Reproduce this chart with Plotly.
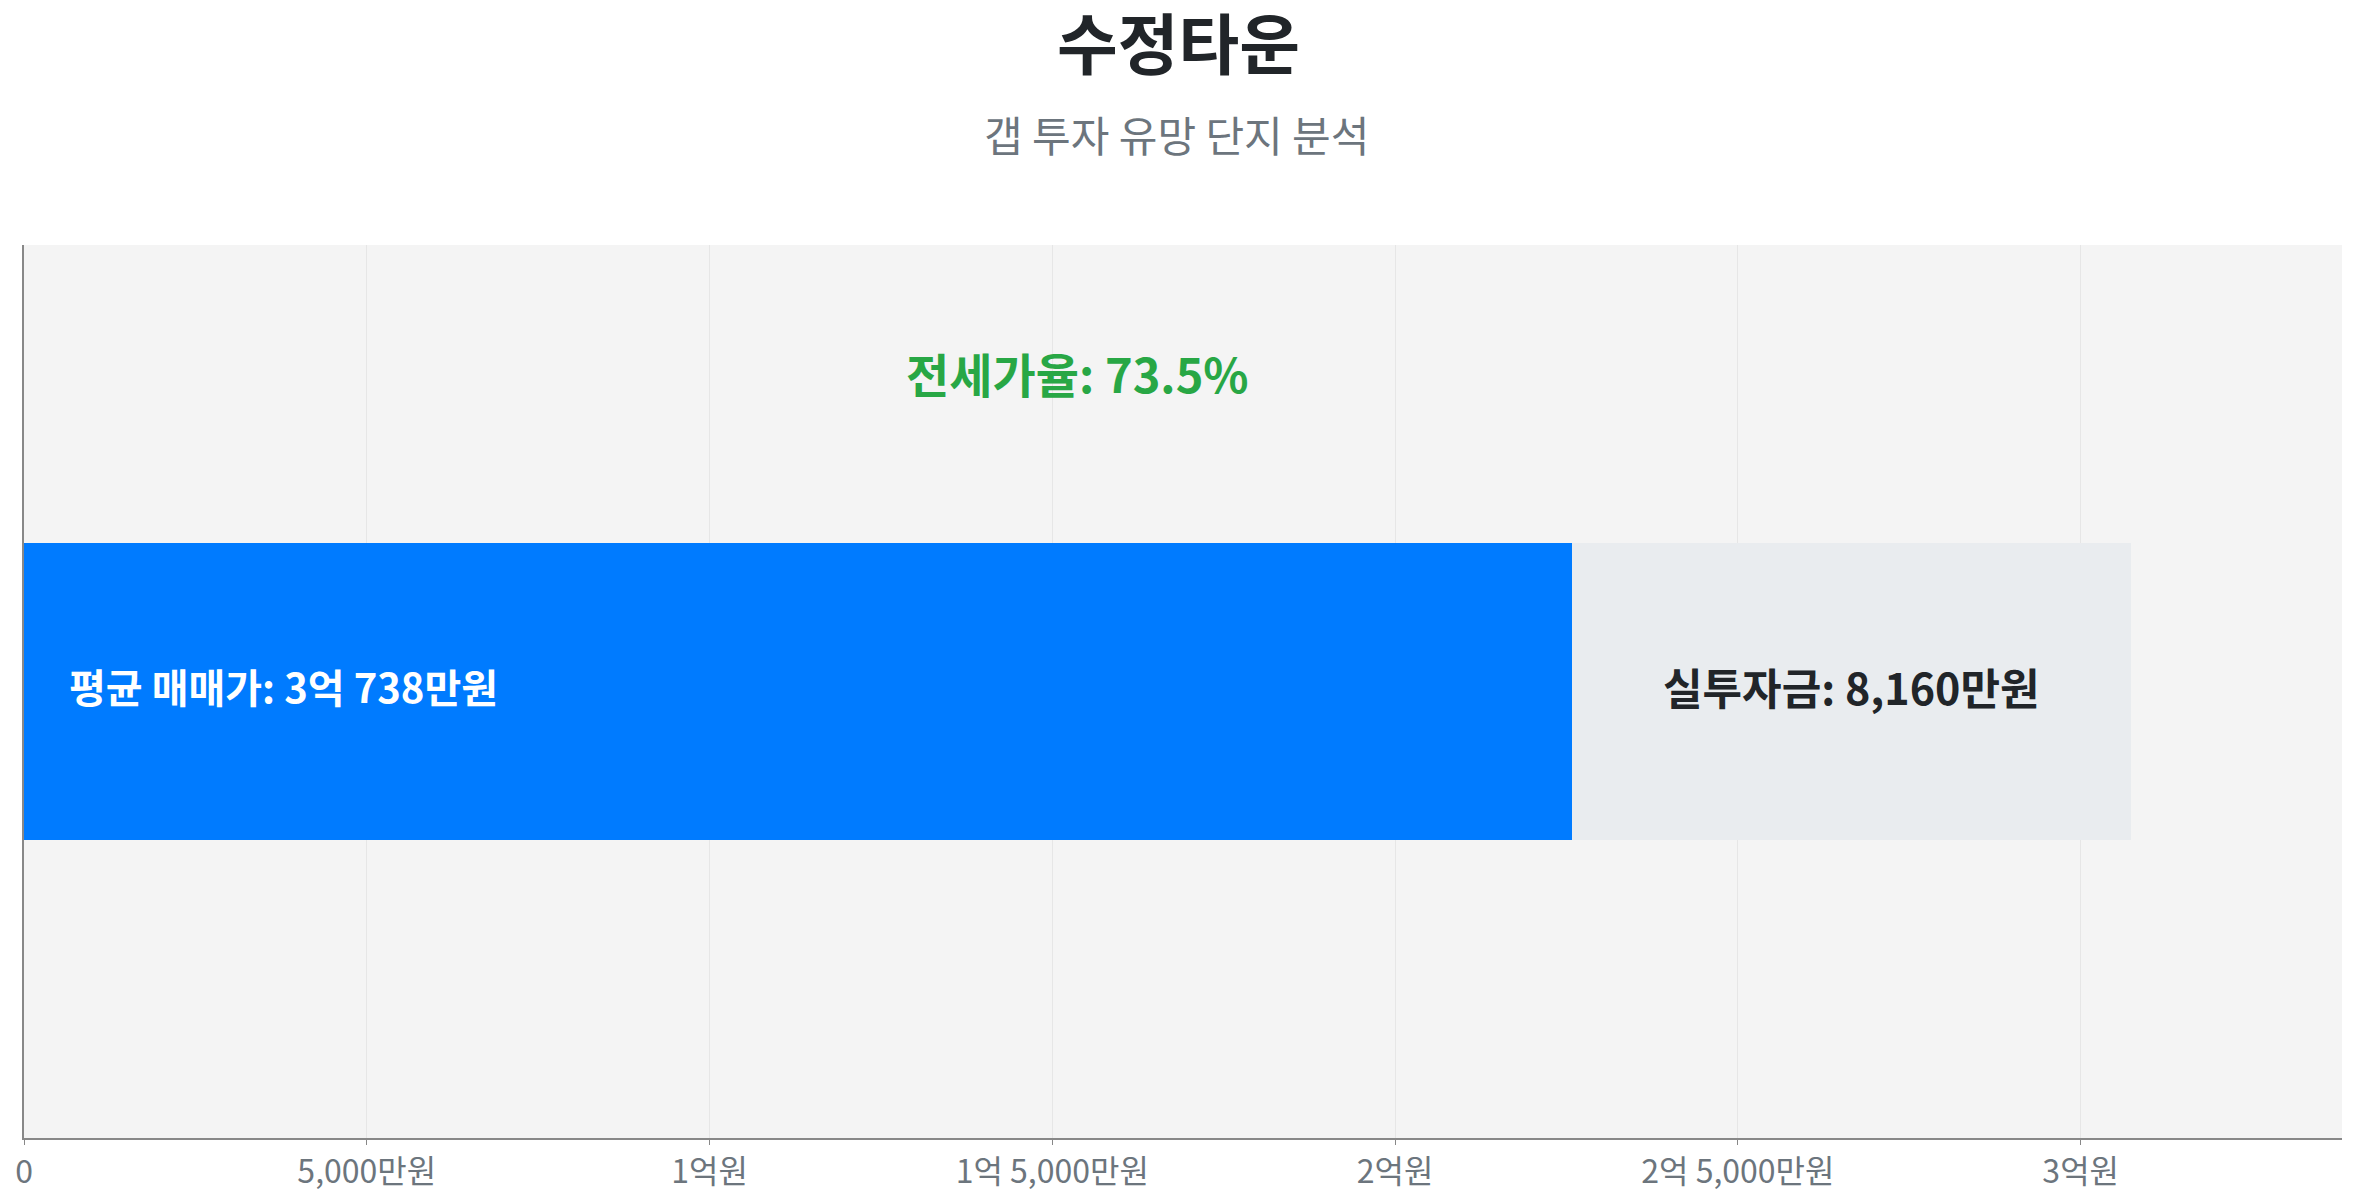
import plotly.graph_objects as go

# 금액 단위: 만원
complex_name = "수정타운"
subtitle = "갭 투자 유망 단지 분석"
sale_price = 30738      # 평균 매매가
jeonse_price = 22578    # 평균 전세가
gap_amount = 8160       # 실투자금
jeonse_ratio = 73.5     # 전세가율 (%)

tick_values = [0, 5000, 10000, 15000, 20000, 25000, 30000]
tick_labels = ["0", "5,000만원", "1억원", "1억 5,000만원", "2억원", "2억 5,000만원", "3억원"]

FONT = "Noto Sans CJK KR"
BLUE = "#007bff"
GRAY_BAR = "#e9ecef"
DARK = "#212529"
MUTED = "#6c757d"
GREEN = "#28a745"

fig = go.Figure()

fig.add_trace(go.Bar(
    x=[jeonse_price], y=[0], orientation="h", width=1,
    marker=dict(color=BLUE, line=dict(width=0)),
    hoverinfo="skip", showlegend=False,
))
fig.add_trace(go.Bar(
    x=[gap_amount], y=[0], orientation="h", width=1,
    marker=dict(color=GRAY_BAR, line=dict(width=0)),
    hoverinfo="skip", showlegend=False,
))

# 막대 안 라벨
eok, man = divmod(sale_price, 10000)
fig.add_annotation(
    x=0, y=0, xref="x", yref="y", xanchor="left", yanchor="middle",
    xshift=43, yshift=6, showarrow=False,
    text="평균 매매가: {}억 {:,}만원".format(eok, man),
    font=dict(family=FONT, size=40, color="white", weight="bold"),
)
fig.add_annotation(
    x=jeonse_price + gap_amount / 2, y=0, xref="x", yref="y",
    yanchor="middle", yshift=6, showarrow=False,
    text="실투자금: {:,}만원".format(gap_amount),
    font=dict(family=FONT, size=43, color=DARK, weight="bold"),
)
fig.add_annotation(
    x=sale_price / 2, y=1.06, xref="x", yref="y", showarrow=False,
    yshift=3,
    text="전세가율: {}%".format(jeonse_ratio),
    font=dict(family=FONT, size=47, color=GREEN, weight="bold"),
)
fig.add_annotation(
    x=0.497, y=1.125, xref="paper", yref="paper", showarrow=False,
    yanchor="middle", text=subtitle,
    font=dict(family=FONT, size=42, color=MUTED),
)

fig.update_layout(
    width=2341, height=1184,
    barmode="stack",
    paper_bgcolor="white", plot_bgcolor="#f4f4f4",
    margin=dict(l=16, r=7, t=237, b=54),
    font=dict(family=FONT, color=MUTED),
    title=dict(
        text=complex_name, x=0.5, xanchor="center",
        y=0.968, yref="container", yanchor="middle",
        font=dict(family=FONT, size=66, color=DARK, weight="bold"),
    ),
    xaxis=dict(
        range=[0, sale_price * 1.1],
        tickvals=tick_values, ticktext=tick_labels,
        tickfont=dict(family=FONT, size=32, color=MUTED),
        showgrid=True, gridcolor="#e6e6e6", gridwidth=1,
        showline=True, linecolor="#888888", linewidth=2,
        ticks="outside", ticklen=5, tickcolor="#888888",
        zeroline=False, fixedrange=True, automargin=False,
    ),
    yaxis=dict(
        range=[-1.5, 1.5], showticklabels=False, showgrid=False,
        showline=True, linecolor="#888888", linewidth=2,
        zeroline=False, fixedrange=True, automargin=False,
    ),
)

fig.write_html("out.html")
